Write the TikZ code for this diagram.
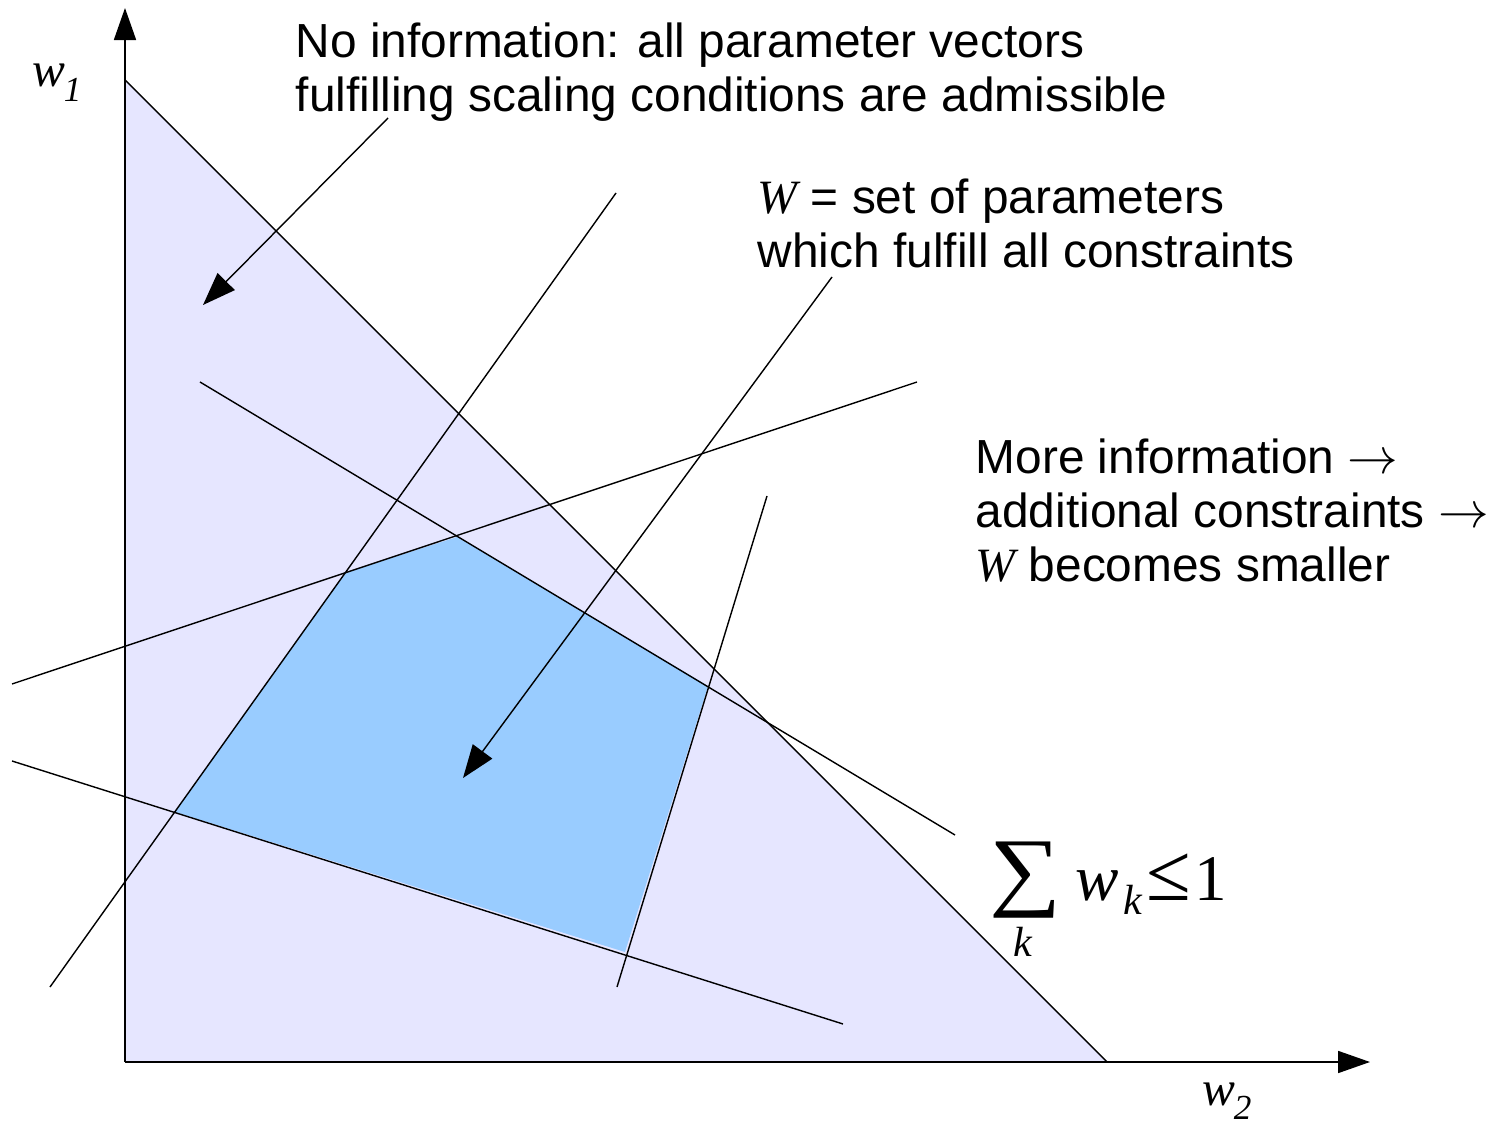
\documentclass[tikz,border=0pt]{standalone}
\usepackage{fontspec}
\setmainfont{Liberation Sans}
\newfontfamily\timesfont{Liberation Serif}
\usepackage{xcolor}
\usepackage{tikz}
\usetikzlibrary{arrows.meta}

\definecolor{regionfill}{RGB}{230,230,255}
\definecolor{feasiblefill}{RGB}{153,204,255}

\begin{document}
\begin{tikzpicture}[
  x=0.01cm, y=-0.01cm,
  region/.style={fill=regionfill, draw=none},
  feasible/.style={fill=feasiblefill, draw=none},
  constraint/.style={draw, line width=0.4pt},
  axis/.style={-{Triangle[length=3.2mm, width=2.2mm]}, line width=0.5pt},
  pointer/.style={-{Triangle[length=3.3mm, width=2.4mm]}, line width=0.4pt},
  note/.style={inner sep=0, align=left, anchor=north west, font=\fontsize{13.6}{15.4}\selectfont},
  var/.style={inner sep=0, font=\timesfont\itshape\fontsize{14}{14}\selectfont},
  formula/.style={inner sep=0, font=\timesfont\fontsize{18.5}{18.5}\selectfont}
]
\useasboundingbox (0,0) rectangle (1500,1122);

% admissible region and the set W
\fill[region] (125,80) -- (1107,1062) -- (125,1062) -- cycle;
\fill[feasible] (345,573) -- (457,537) -- (708,686) -- (625,952) -- (175,812) -- cycle;

% constraints
\draw[constraint] (125,80) -- (1107,1062);
\draw[constraint] (50,987) -- (616,193);
\draw[constraint] (200,382) -- (955,835);
\draw[constraint] (12,684) -- (917,382);
\draw[constraint] (12,761) -- (843,1024);
\draw[constraint] (617,987) -- (767,496);

% axes
\coordinate (origin) at (125,1062);
\coordinate (ytip) at (125,8);
\coordinate (xtip) at (1370,1062);
\draw[axis] (origin) -- (ytip);
\draw[axis] (origin) -- (xtip);
\node[var, anchor=base west] (w1) at (32,87) {w\kern-0.5pt\raisebox{-4pt}{\fontsize{10}{10}\selectfont 1}};
\node[var, anchor=base west] (w2) at (1202,1105) {w\kern-0.5pt\raisebox{-4pt}{\fontsize{10}{10}\selectfont 2}};

% notes
\node[note] (noinfo) at (295,22) {No information: all parameter vectors\\fulfilling scaling conditions are admissible};
\node[note] (wset) at (757,178) {{\timesfont\itshape W} = set of parameters\\which fulfill all constraints};
\node[note] (moreinfo) at (975,438) {More information $\rightarrow$\\additional constraints $\rightarrow$\\{\timesfont\itshape W} becomes smaller};

\coordinate (noinfotail) at (388,118);
\coordinate (noinfohead) at (203,305);
\coordinate (wsettail) at (832,277);
\coordinate (wsethead) at (463,778);
\draw[pointer] (noinfotail) -- (noinfohead);
\draw[pointer] (wsettail) -- (wsethead);

% sum condition
\node[formula, font=\timesfont\fontsize{25}{25}\selectfont] (sigma) at (1026,880) {\scalebox{1.15}[1]{∑}};
\node[var, font=\timesfont\itshape\fontsize{12}{12}\selectfont, anchor=base] (sigmaidx) at (1023,956) {k};
\node[formula, anchor=base west] (wk) at (1075,900) {\itshape w};
\node[var, font=\timesfont\itshape\fontsize{12}{12}\selectfont, anchor=base west] (wkidx) at (1123,914) {k};
\node[formula, anchor=base west] (bound) at (1146,900) {\scalebox{1.25}{≤}\kern1pt 1};
\end{tikzpicture}
\end{document}
